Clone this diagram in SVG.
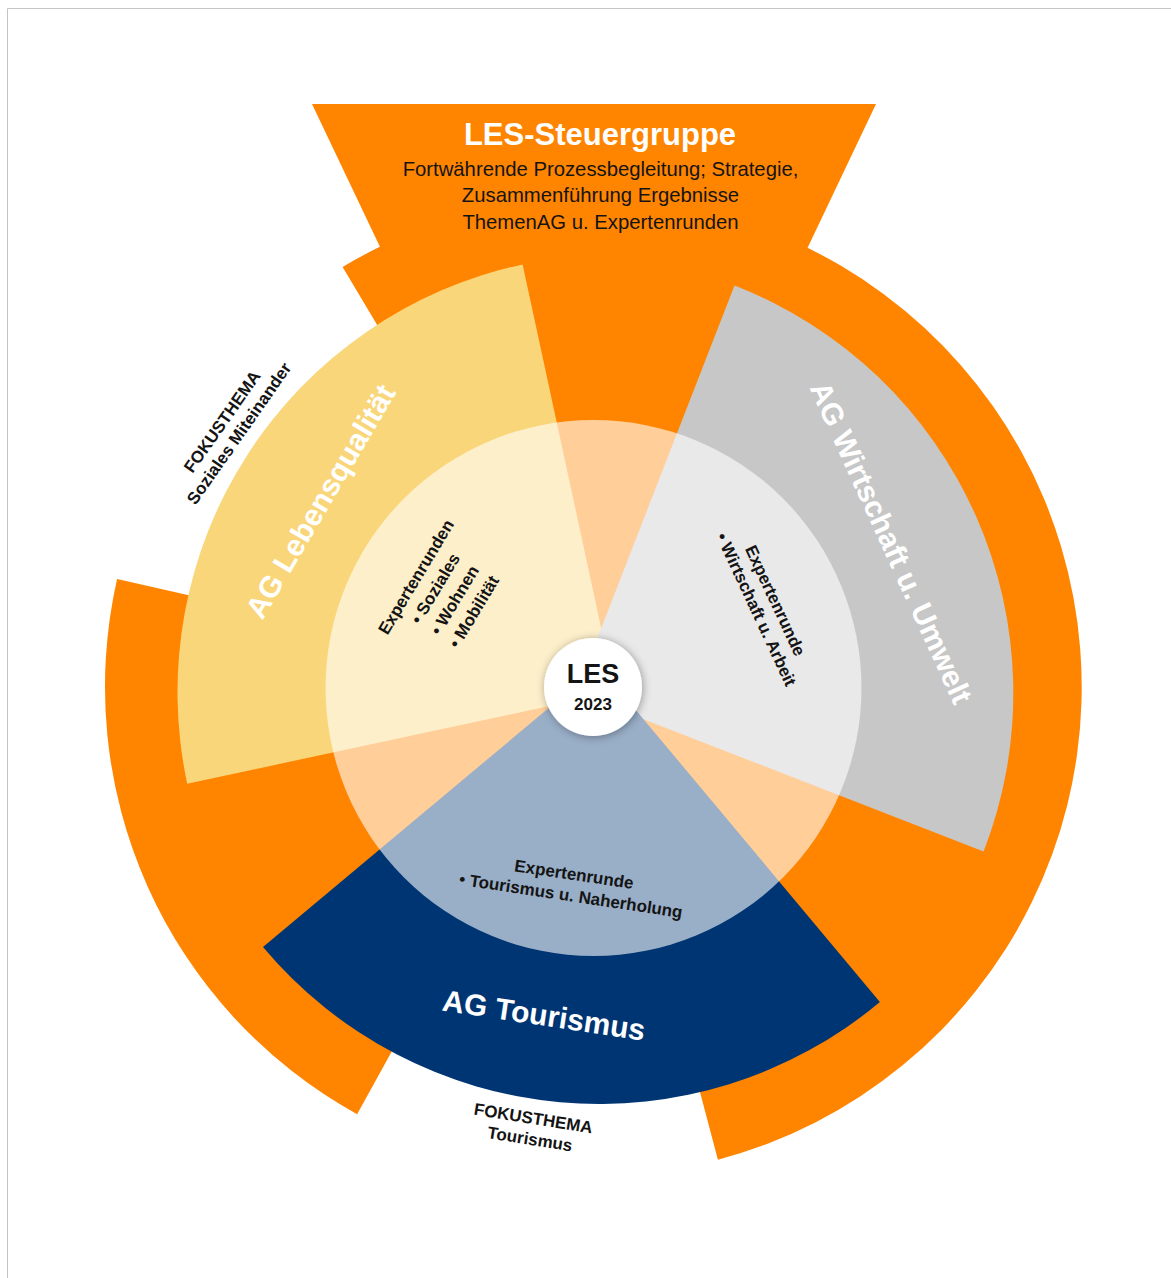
<svg xmlns="http://www.w3.org/2000/svg" width="1171" height="1278" viewBox="0 0 1171 1278">
<defs>
<style>
text{font-family:"Liberation Sans",Arial,sans-serif;}
.orange{fill:#FF8400;}
.b{font-weight:bold;}
.dark{fill:#141414;}
.white{fill:#FFFFFF;}
.mid{text-anchor:middle;}
.ag{font-size:30px;font-weight:bold;fill:#FFFFFF;text-anchor:middle;}
.inner{font-size:17px;font-weight:bold;fill:#141414;text-anchor:middle;}
.fokus{font-size:17px;font-weight:bold;fill:#141414;text-anchor:middle;}
</style>
<filter id="shadow" x="-40%" y="-40%" width="180%" height="180%">
<feDropShadow dx="1" dy="1" stdDeviation="4" flood-color="#000000" flood-opacity="0.35"/>
</filter>
</defs>
<rect x="0" y="0" width="1171" height="1278" fill="#FFFFFF"/>
<path d="M7.5,1278 L7.5,8.5 L1171,8.5" fill="none" stroke="#C4C4C4" stroke-width="1"/>

<g id="node-steuergruppe">
<path class="orange" d="M593,687 L342.6,266.9 A489,489 0 1 1 717.9,1159.8 Z"/>
<path class="orange" d="M593,687 L357.1,1114.2 A488,488 0 0 1 117.1,578.9 Z"/>
<polygon class="orange" points="312,104 876,104 807,249 381,249"/>
<text x="600" y="145" class="b white mid" font-size="31">LES-Steuergruppe</text>
<text class="dark mid" font-size="20.3"><tspan x="600.5" y="176">Fortwährende Prozessbegleitung; Strategie,</tspan><tspan x="600.5" y="202">Zusammenführung Ergebnisse</tspan><tspan x="600.5" y="228.5">ThemenAG u. Expertenrunden</tspan></text>
</g>

<g id="node-lebensqualitaet">
<path fill="#FAD67A" d="M615,692 L187.2,783.7 A437.5,437.5 0 0 1 522.6,264.4 Z"/>
</g>
<g id="node-wirtschaft">
<path fill="#C7C7C7" d="M576,693 L734.5,285.4 A437.3,437.3 0 0 1 983.6,851.5 Z"/>
</g>
<g id="node-tourismus">
<path fill="#003573" d="M599,666 L879.9,1002 A438,438 0 0 1 263,946.9 Z"/>
</g>

<g id="node-expertenrunden">
<circle cx="593.5" cy="688" r="268" fill="#FFFFFF" fill-opacity="0.6"/>
</g>

<g id="labels">
<text class="ag" font-size="30.5" transform="translate(329.4,506.5) rotate(-59.5)">AG Lebensqualität</text>
<text class="ag" transform="translate(881.8,547) rotate(65.5)">AG Wirtschaft u. Umwelt</text>
<text class="ag" font-size="29.5" transform="translate(542.4,1025.5) rotate(8.5)">AG Tourismus</text>

<text class="inner" transform="translate(421,580) rotate(-59)"><tspan x="0" y="0">Expertenrunden</tspan><tspan x="0" y="22.5">• Soziales</tspan><tspan x="0" y="45">• Wohnen</tspan><tspan x="0" y="67.5">• Mobilität</tspan></text>
<text class="inner" transform="translate(770,603) rotate(65)"><tspan x="0" y="0">Expertenrunde</tspan><tspan x="0" y="21">• Wirtschaft u. Arbeit</tspan></text>
<text class="inner" transform="translate(573.2,880) rotate(8.5)"><tspan x="0" y="0">Expertenrunde</tspan><tspan x="0" y="21.5">• Tourismus u. Naherholung</tspan></text>
</g>

<g id="node-fokus-miteinander">
<text class="fokus" transform="translate(227,425) rotate(-55)"><tspan x="0" y="0">FOKUSTHEMA</tspan><tspan x="0" y="20.5">Soziales Miteinander</tspan></text>
</g>
<g id="node-fokus-tourismus">
<text class="fokus" transform="translate(532.4,1124) rotate(9)"><tspan x="0" y="0">FOKUSTHEMA</tspan><tspan x="0" y="21">Tourismus</tspan></text>
</g>

<g id="node-les">
<circle cx="593" cy="687" r="49" fill="#FFFFFF" filter="url(#shadow)"/>
<text x="593" y="683" class="b dark mid" font-size="27">LES</text>
<text x="593" y="710" class="b dark mid" font-size="17">2023</text>
</g>

<g id="connectors"></g>
</svg>
